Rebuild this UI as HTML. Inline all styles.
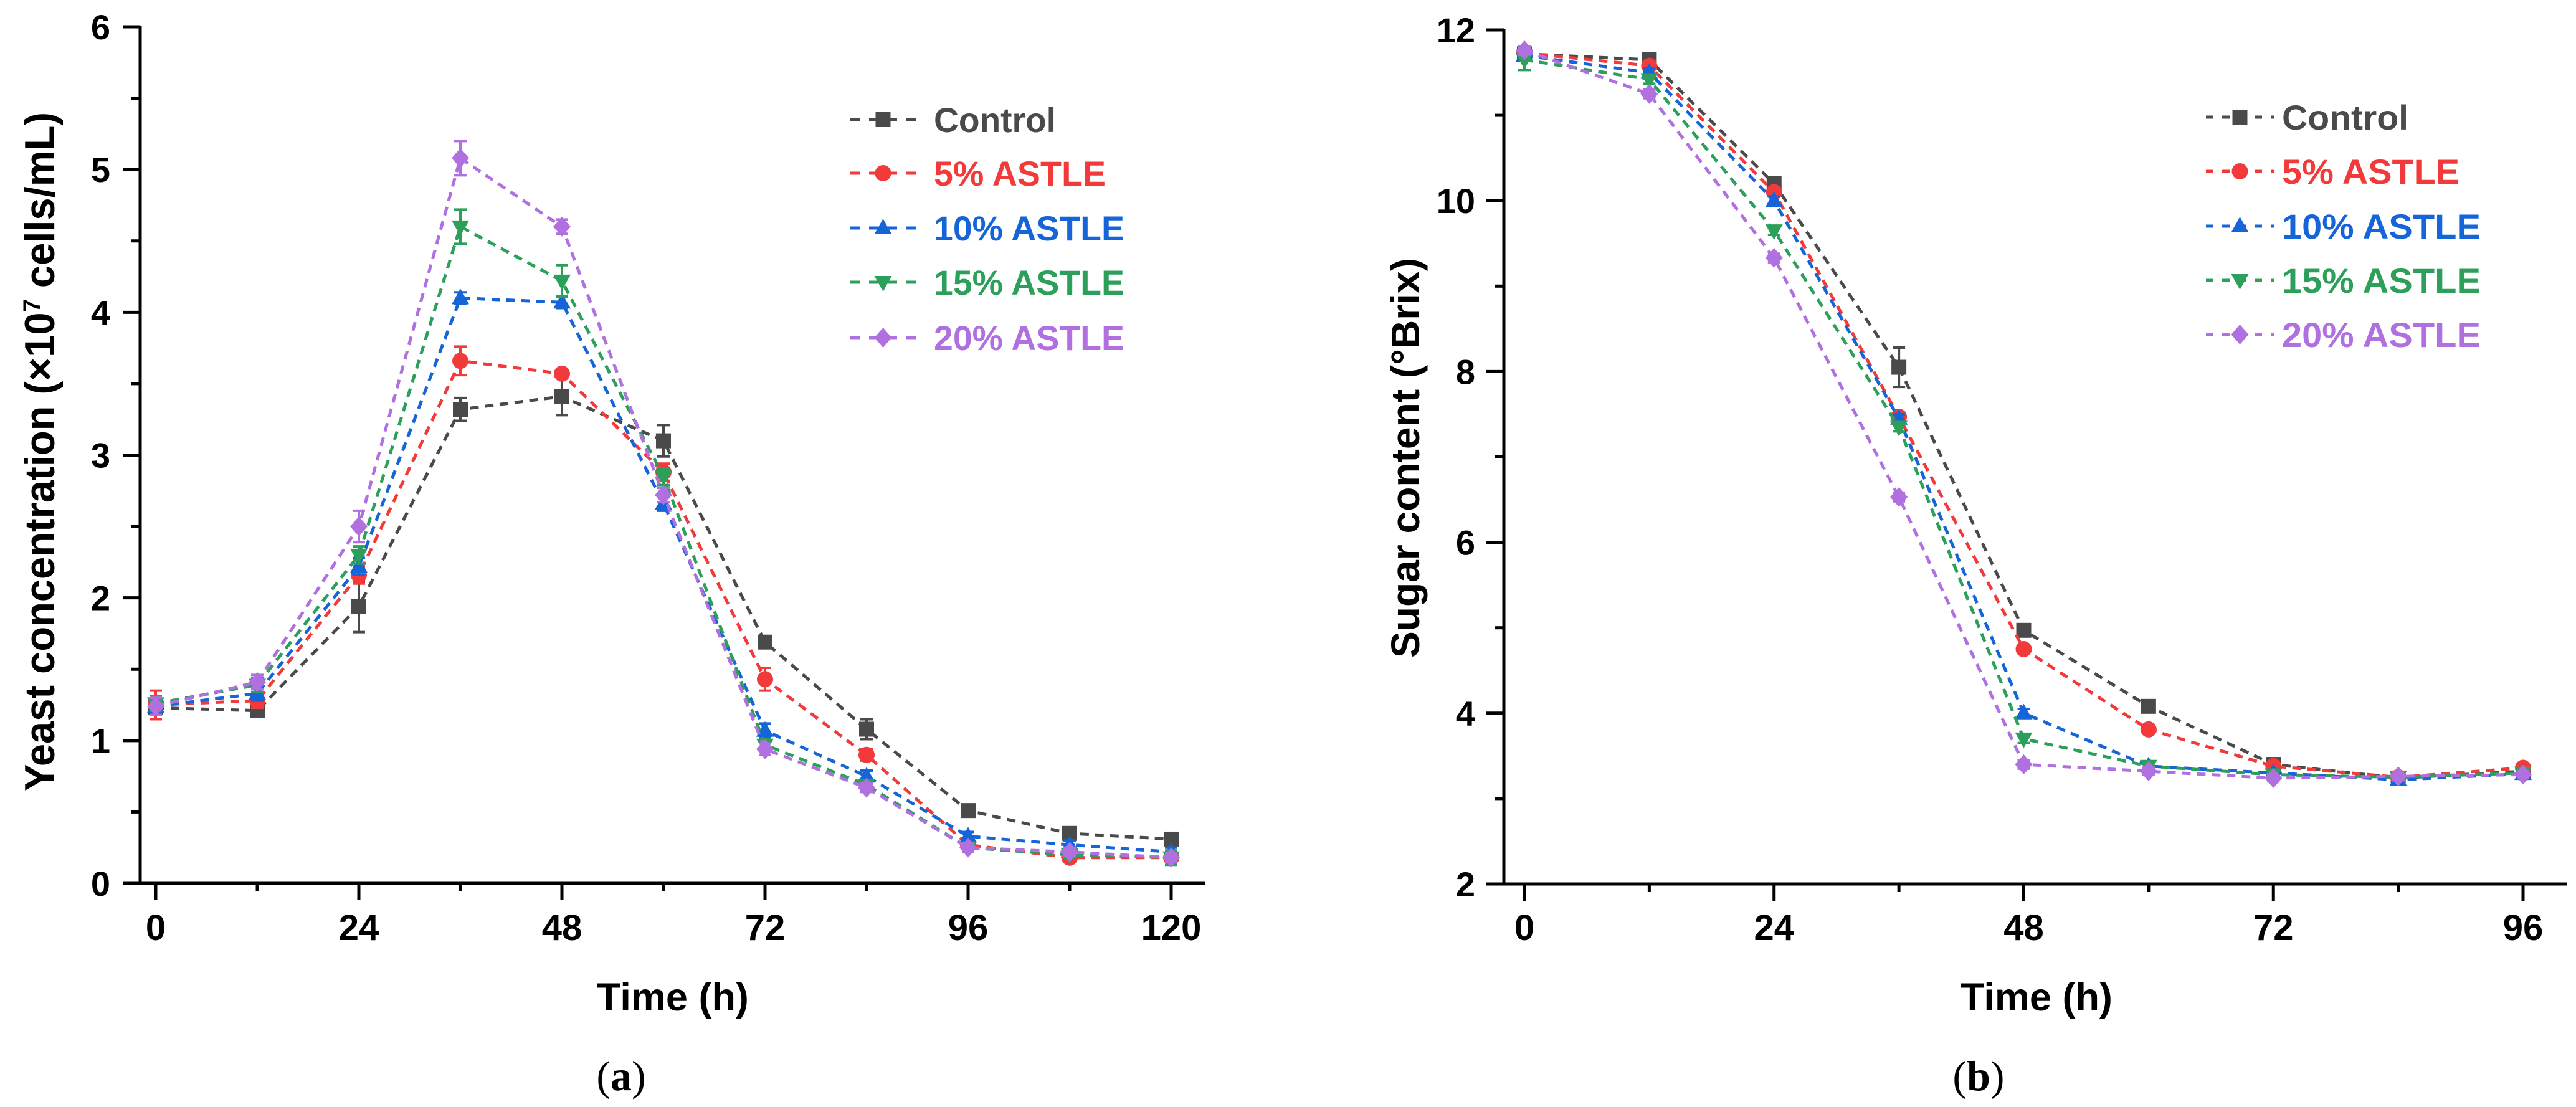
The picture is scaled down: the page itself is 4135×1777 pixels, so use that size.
<!DOCTYPE html>
<html><head><meta charset="utf-8"><style>
html,body{margin:0;padding:0;background:#fff;}
svg{display:block;font-family:"Liberation Sans",Arial,sans-serif;}
</style></head><body>
<svg id="fig" width="4135" height="1777" viewBox="0 0 4135 1777" xmlns="http://www.w3.org/2000/svg">
<rect x="0" y="0" width="4135" height="1777" fill="#fff"/>
<g id="chartA"></g>
<g id="chartB"></g>
<text x="997" y="1750" text-anchor="middle" font-family="'Liberation Serif',serif" font-size="68">(<tspan font-weight="bold">a</tspan>)</text>
<text x="3176" y="1750" text-anchor="middle" font-family="'Liberation Serif',serif" font-size="68">(<tspan font-weight="bold">b</tspan>)</text>
</svg>
<script>
const seriesNames = ["Control","5% ASTLE","10% ASTLE","15% ASTLE","20% ASTLE"];
const seriesColors = ["#4a4a4a","#f23a3a","#1565d8","#2ca05a","#b070e0"];
const seriesMarkers = ["square","circle","tri-up","tri-down","diamond"];

// Chart A: yeast concentration
const timesA = [0,12,24,36,48,60,72,84,96,108,120];
const yeastControl = [1.23,1.21,1.94,3.32,3.41,3.10,1.69,1.08,0.51,0.35,0.31];
const yeast5 = [1.25,1.28,2.16,3.66,3.57,2.88,1.43,0.90,0.27,0.18,0.18];
const yeast10 = [1.24,1.33,2.22,4.10,4.07,2.66,1.07,0.75,0.33,0.27,0.22];
const yeast15 = [1.26,1.39,2.30,4.60,4.22,2.85,0.97,0.69,0.25,0.20,0.18];
const yeast20 = [1.24,1.41,2.50,5.08,4.60,2.72,0.94,0.67,0.25,0.22,0.18];
const yeastErrControl = [0.05,0.04,0.18,0.08,0.13,0.11,0.03,0.07,0.03,0.03,0.03];
const yeastErr5 = [0.10,0.05,0.06,0.10,0.03,0.06,0.08,0.04,0.03,0.03,0.03];
const yeastErr10 = [0.05,0.05,0.06,0.04,0.04,0.05,0.05,0.04,0.03,0.03,0.03];
const yeastErr15 = [0.05,0.05,0.06,0.12,0.11,0.06,0.04,0.03,0.03,0.03,0.05];
const yeastErr20 = [0.06,0.05,0.11,0.12,0.05,0.05,0.04,0.03,0.03,0.03,0.03];
const yTicksA = [0,1,2,3,4,5,6];
const xTicksA = [0,24,48,72,96,120];

// Chart B: sugar content
const timesB = [0,12,24,36,48,60,72,84,96];
const sugarControl = [11.72,11.65,10.20,8.05,4.97,4.08,3.40,3.24,3.32];
const sugar5 = [11.73,11.58,10.10,7.47,4.75,3.81,3.38,3.25,3.36];
const sugar10 = [11.70,11.50,10.00,7.45,4.00,3.38,3.30,3.22,3.29];
const sugar15 = [11.65,11.42,9.65,7.35,3.70,3.38,3.28,3.25,3.30];
const sugar20 = [11.76,11.25,9.33,6.53,3.40,3.32,3.24,3.26,3.28];
const sugarErrControl = [0.05,0.05,0.06,0.23,0.05,0.05,0.05,0.04,0.04];
const sugarErr5 = [0.05,0.05,0.05,0.05,0.05,0.05,0.04,0.04,0.04];
const sugarErr10 = [0.05,0.05,0.05,0.05,0.05,0.04,0.04,0.04,0.04];
const sugarErr15 = [0.12,0.05,0.05,0.05,0.05,0.04,0.04,0.04,0.04];
const sugarErr20 = [0.05,0.05,0.05,0.05,0.05,0.04,0.04,0.04,0.04];
const yTicksB = [2,4,6,8,10,12];
const xTicksB = [0,24,48,72,96];

const NS = "http://www.w3.org/2000/svg";
function mk(parent, tag, attrs){
  const e = document.createElementNS(NS, tag);
  for (const k in attrs) e.setAttribute(k, attrs[k]);
  parent.appendChild(e);
  return e;
}
function marker(g, type, cx, cy, color){
  const s = 12;
  let e;
  if (type==="square") e = mk(g,"rect",{x:cx-s,y:cy-s,width:2*s,height:2*s,fill:color});
  else if (type==="circle") e = mk(g,"circle",{cx:cx,cy:cy,r:s+1,fill:color});
  else if (type==="tri-up") e = mk(g,"polygon",{points:`${cx},${cy-s-3} ${cx+s+2},${cy+s-2} ${cx-s-2},${cy+s-2}`,fill:color});
  else if (type==="tri-down") e = mk(g,"polygon",{points:`${cx},${cy+s+3} ${cx+s+2},${cy-s+2} ${cx-s-2},${cy-s+2}`,fill:color});
  else e = mk(g,"polygon",{points:`${cx},${cy-s-4} ${cx+s+2},${cy} ${cx},${cy+s+4} ${cx-s-2},${cy}`,fill:color});
  
  
  return e;
}

function drawChart(root, cfg){
  const sx = v => cfg.x0 + (v - cfg.xmin) / (cfg.xmax - cfg.xmin) * (cfg.x1 - cfg.x0);
  const sy = v => cfg.y0 + (v - cfg.ymin) / (cfg.ymax - cfg.ymin) * (cfg.y1 - cfg.y0);
  const axes = mk(root,"g",{stroke:"#000","stroke-width":5,fill:"none"});
  
  
  const yAxis = mk(axes,"line",{x1:cfg.axX,y1:sy(cfg.ymax)-2,x2:cfg.axX,y2:cfg.axY+2});
  
  
  const xAxis = mk(axes,"line",{x1:cfg.axX-28,y1:cfg.axY,x2:cfg.axEnd,y2:cfg.axY});
  
  
  for (let i=0;i<cfg.yTicks.length;i++){
    const v = cfg.yTicks[i], y = sy(v);
    mk(axes,"line",{x1:cfg.axX-28,y1:y,x2:cfg.axX,y2:y});
    const t = mk(root,"text",{x:cfg.yLabelRight,y:y+20,"text-anchor":"end","font-size":56,"font-weight":"bold"});
    
    
    t.textContent = String(v);
    if (i < cfg.yTicks.length-1){
      const ym = sy((v + cfg.yTicks[i+1]) / 2);
      mk(axes,"line",{x1:cfg.axX-15,y1:ym,x2:cfg.axX,y2:ym});
    }
  }
  for (let v=cfg.xmin; v<=cfg.xmax; v+=12){
    const major = cfg.xTicks.indexOf(v) >= 0;
    const x = sx(v);
    mk(axes,"line",{x1:x,y1:cfg.axY,x2:x,y2:cfg.axY+(major?27:13)});
    if (major){
      const t = mk(root,"text",{x:x,y:1509,"text-anchor":"middle","font-size":58,"font-weight":"bold"});
      
      
      t.textContent = String(v);
    }
  }
  const xt = mk(root,"text",{x:cfg.xTitleX,y:1622,"text-anchor":"middle","font-size":63,"font-weight":"bold"});
  
  
  xt.textContent = "Time (h)";
  const yt = mk(root,"text",{transform:`translate(${cfg.yTitleX},${cfg.yTitleY}) rotate(-90)`,"text-anchor":"middle","font-size":cfg.yTitleSize,"font-weight":"bold",textLength:cfg.yTitleLen,lengthAdjust:"spacingAndGlyphs"});
  
  
  yt.innerHTML = cfg.yTitle;
  for (let s=0;s<cfg.series.length;s++){
    const vals = cfg.series[s], errs = cfg.errors[s], col = seriesColors[s];
    const g = mk(root,"g",{});
    
    
    const pts = vals.map((v,i)=>`${sx(cfg.times[i])},${sy(v)}`).join(" ");
    const line = mk(g,"polyline",{points:pts,fill:"none",stroke:col,"stroke-width":5,"stroke-dasharray":"14 10"});
    
    
    for (let i=0;i<vals.length;i++){
      const x = sx(cfg.times[i]), yhi = sy(vals[i]+errs[i]), ylo = sy(vals[i]-errs[i]);
      const eb = mk(g,"path",{d:`M${x},${yhi}V${ylo}M${x-10},${yhi}H${x+10}M${x-10},${ylo}H${x+10}`,stroke:col,"stroke-width":4,fill:"none"});
      
      
      marker(g, seriesMarkers[s], x, sy(vals[i]), col);
    }
  }
  const lg = mk(root,"g",{});
  
  
  for (let s=0;s<seriesNames.length;s++){
    const col = seriesColors[s], base = cfg.legBase[s], cy = base - 20;
    const ent = mk(lg,"g",{});
    
    
    mk(ent,"line",{x1:cfg.legX0,y1:cy,x2:cfg.legX1,y2:cy,stroke:col,"stroke-width":5,"stroke-dasharray":cfg.legDash});
    marker(ent, seriesMarkers[s], (cfg.legX0+cfg.legX1)/2, cy, col);
    const t = mk(ent,"text",{x:cfg.legTextX,y:base,"font-size":56,"font-weight":"bold",fill:col,textLength:cfg.legLens[s],lengthAdjust:"spacingAndGlyphs"});
    
    
    t.textContent = seriesNames[s];
  }
}

drawChart(document.getElementById("chartA"), {
  x0:250, x1:1880, xmin:0, xmax:120, y0:1418, y1:43, ymin:0, ymax:6,
  axX:225, axY:1418, axEnd:1934, yLabelRight:177,
  times:timesA, series:[yeastControl,yeast5,yeast10,yeast15,yeast20],
  errors:[yeastErrControl,yeastErr5,yeastErr10,yeastErr15,yeastErr20],
  yTicks:yTicksA, xTicks:xTicksA, xTitleX:1080,
  yTitle:'Yeast concentration (×10<tspan dy="-22" font-size="40">7</tspan><tspan dy="22"> cells/mL)</tspan>',
  yTitleX:87, yTitleY:725, yTitleSize:68, yTitleLen:1090,
  legX0:1365, legX1:1470, legTextX:1499, legDash:"15 15",
  legBase:[212,298,386,473,562], legLens:[196,276,306,306,306]
});
drawChart(document.getElementById("chartB"), {
  x0:2447, x1:4050, xmin:0, xmax:96, y0:1419, y1:48, ymin:2, ymax:12,
  axX:2414, axY:1419, axEnd:4120, yLabelRight:2368,
  times:timesB, series:[sugarControl,sugar5,sugar10,sugar15,sugar20],
  errors:[sugarErrControl,sugarErr5,sugarErr10,sugarErr15,sugarErr20],
  yTicks:yTicksB, xTicks:xTicksB, xTitleX:3269,
  yTitle:'Sugar content (°Brix)',
  yTitleX:2278, yTitleY:735, yTitleSize:64, yTitleLen:642,
  legX0:3541, legX1:3650, legTextX:3663, legDash:"12 14",
  legBase:[208,295,383,470,557], legLens:[203,285,319,319,319]
});
</script>
</body></html>
